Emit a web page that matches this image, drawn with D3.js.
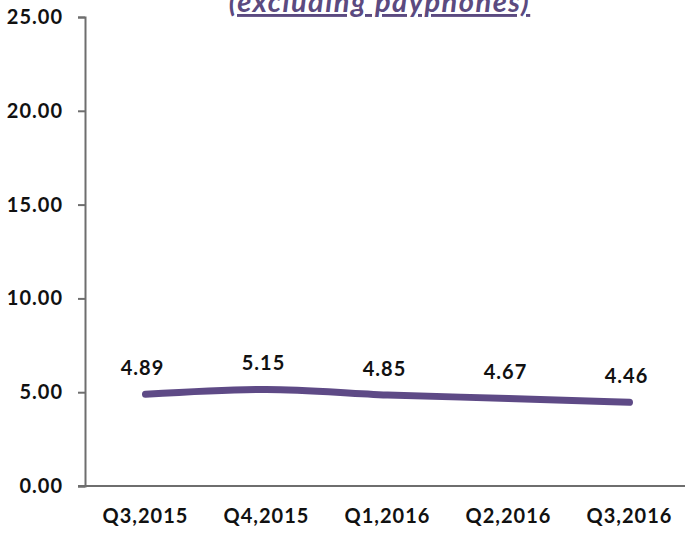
<!DOCTYPE html>
<html>
<head>
    <script src="https://d3js.org/d3.v7.min.js"></script>
    <style>
        body { margin: 0; background: #fff; }
        text { font-family: "Lato", "DejaVu Sans", sans-serif; font-weight: bold; fill: #111; letter-spacing: 1px; }
    </style>
</head>
<body>
    <svg width="685" height="533"></svg>

    <script>
        // Chart data
        var quarters = ["Q3,2015", "Q4,2015", "Q1,2016", "Q2,2016", "Q3,2016"];
        var values = [4.89, 5.15, 4.85, 4.67, 4.46];
        var yTicks = [0, 5, 10, 15, 20, 25];

        var data = quarters.map(function(q, i) { return {x: q, y: values[i]}; });

        var margin = {top: 17, right: -5, bottom: 47, left: 85},
            width = 685 - margin.left - margin.right,
            height = 533 - margin.top - margin.bottom;

        var svg = d3.select("svg")
          .append("g")
            .attr("transform", "translate(" + margin.left + "," + margin.top + ")");

        var x = d3.scaleBand().domain(quarters).range([0, width]);
        var y = d3.scaleLinear().domain([0, 25]).range([height, 0]);

        // Title (cut off at the top, as in the source)
        svg.append("text")
            .attr("x", width / 2 - 8)
            .attr("y", -5)
            .attr("text-anchor", "middle")
            .style("font-size", "29px")
            .style("font-style", "italic")
            .style("letter-spacing", "1.5px")
            .style("text-decoration", "underline")
            .style("fill", "#5b4a80")
            .text("(excluding payphones)");

        // Y axis
        var yAxis = svg.append("g")
            .call(d3.axisLeft(y).tickValues(yTicks).tickFormat(d3.format(".2f")).tickSizeOuter(0).tickSize(7).tickPadding(15));
        yAxis.select(".domain").attr("stroke", "#6e6e6e").attr("stroke-width", 2);
        yAxis.selectAll(".tick line").attr("stroke", "#6e6e6e").attr("stroke-width", 2);
        yAxis.selectAll(".tick text").style("font-size", "20px");

        // X axis
        var xAxis = svg.append("g")
            .attr("transform", "translate(0," + height + ")")
            .call(d3.axisBottom(x).tickSize(0).tickPadding(23));
        xAxis.select(".domain").attr("d", "M-7,0H" + width).attr("stroke", "#6e6e6e").attr("stroke-width", 2);
        xAxis.selectAll(".tick text").style("font-size", "20px");

        // Line
        var line = d3.line()
            .x(function(d) { return x(d.x) + x.bandwidth() / 2; })
            .y(function(d) { return y(d.y); })
            .curve(d3.curveMonotoneX);

        svg.append("path")
            .datum(data)
            .attr("d", line)
            .attr("fill", "none")
            .attr("stroke", "#5e4a86")
            .attr("stroke-width", 7)
            .attr("stroke-linecap", "round")
            .attr("stroke-linejoin", "round");

        // Data labels
        svg.selectAll(".lbl")
            .data(data)
          .enter().append("text")
            .attr("class", "lbl")
            .attr("x", function(d) { return x(d.x) + x.bandwidth() / 2 - 3; })
            .attr("y", function(d) { return y(d.y) - 19; })
            .attr("text-anchor", "middle")
            .style("font-size", "20px")
            .text(function(d) { return d.y.toFixed(2); });
    </script>
</body>
</html>
